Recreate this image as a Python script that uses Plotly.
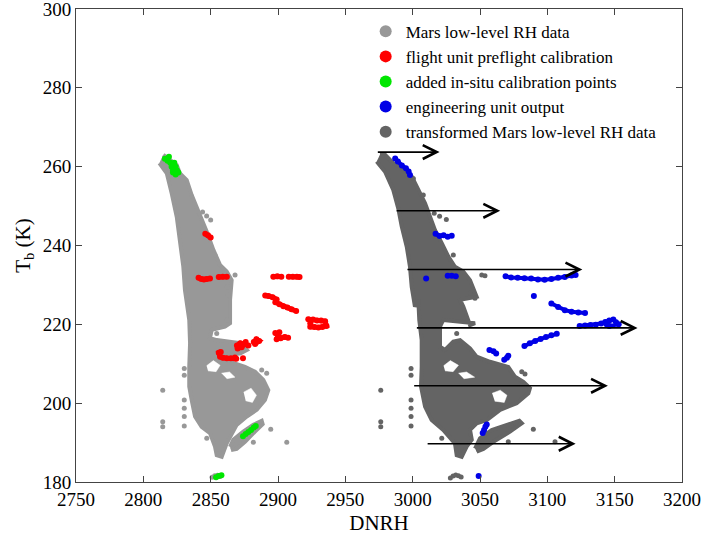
import plotly.graph_objects as go

# ---------------- data ----------------
# Mars low-level RH data (light grey cloud): outline and scattered points
mars_main_x = [2814.8, 2824.8, 2827.2, 2832.2, 2835.9, 2839.6, 2843.3, 2847.1, 2852.0, 2856.9, 2861.9, 2865.6,
               2864.4, 2864.4, 2860.6, 2850.8, 2849.5, 2854.5, 2871.8, 2876.8, 2871.8, 2856.9, 2864.4, 2875.5,
               2882.9, 2889.1, 2892.8, 2890.3, 2884.2, 2876.8, 2869.3, 2864.4, 2861.9, 2858.2, 2854.5, 2853.2,
               2849.5, 2843.3, 2838.4, 2835.9, 2834.1, 2834.1, 2834.7, 2834.1, 2830.9, 2829.7, 2827.2, 2824.8,
               2821.1, 2817.4, 2811.9]
mars_main_y = [263.0, 260.4, 258.3, 256.6, 252.8, 249.8, 246.5, 243.5, 238.9, 235.1, 233.4, 231.2,
               226.2, 220.3, 219.4, 218.6, 216.5, 216.0, 215.2, 213.5, 212.6, 212.2, 210.5, 209.2,
               208.0, 205.9, 203.3, 200.8, 198.3, 196.6, 194.5, 191.5, 189.8, 186.4, 186.8, 189.0,
               192.4, 194.0, 196.6, 200.8, 204.2, 209.2, 215.2, 221.1, 228.7, 234.6, 241.4, 247.3,
               253.2, 258.3, 260.9]
mars_lobe_x = [2864.4, 2866.8, 2874.2, 2881.7, 2887.9, 2888.6, 2882.9, 2875.5, 2869.3, 2865.1]
mars_lobe_y = [188.9, 190.7, 192.8, 194.5, 195.5, 194.7, 192.8, 190.2, 188.4, 188.1]
mars_pts_x = [2814.4, 2814.4, 2814.4, 2830.4, 2830.4, 2830.4, 2830.4, 2830.4, 2830.4, 2847.1, 2894.6,
              2881.7, 2906.5, 2854.5, 2870.5, 2887.9, 2891.6, 2844.0, 2847.0, 2850.0, 2853.2, 2868.1,
              2861.9, 2863.1, 2861.9, 2851.0, 2853.0, 2855.0, 2857.0]
mars_pts_y = [203.3, 195.3, 194.0, 208.8, 207.1, 200.8, 198.7, 196.6, 194.2, 191.1, 193.4,
              190.1, 190.1, 217.7, 209.2, 208.4, 207.6, 248.5, 247.5, 246.5, 237.6, 232.5,
              229.5, 227.4, 221.1, 181.2, 181.6, 181.7, 181.4]
# gaps inside the light grey cloud
mars_hole_x = [2847, 2852, 2857, 2854, 2848, None, 2874.5, 2880, 2884, 2881, 2876, None, 2858, 2864, 2868, 2862]
mars_hole_y = [209.5, 210.8, 209.6, 208.0, 208.2, None, 202.8, 203.8, 202.0, 200.2, 200.6, None, 207.6, 207.9, 206.6, 206.2]

# flight unit preflight calibration (red)
flight_x = [2846, 2848, 2850, None,
            2841, 2843, 2845, 2847, 2849.5, None,
            2856, 2859, 2862, None,
            2896.5, 2899.5, 2902.5, None,
            2908, 2911, 2914, 2916, None,
            2890.5, 2893, 2896, 2899, None,
            2898, 2901, 2904, 2907, 2910, 2913.5, None,
            2922.5, 2926, 2929, 2932, 2935, 2936, 2933, 2930, 2927, 2924, 2924, None,
            2898, 2900, 2902, 2905, 2907.5, None, 2899, 2901, None,
            2869.5, 2872, 2875, 2878, None, 2870, 2873, 2876, None,
            2882, 2884, 2886, 2883, None,
            2857.5, 2856, 2857, 2859, 2862, 2865, 2868, 2869, None,
            2874]
flight_y = [243.0, 242.6, 242.0, None,
            231.8, 231.5, 231.4, 231.5, 231.6, None,
            232.0, 232.1, 232.1, None,
            232.1, 232.2, 232.1, None,
            232.1, 232.1, 232.1, 232.0, None,
            227.3, 227.2, 226.9, 226.3, None,
            225.6, 225.1, 224.6, 224.3, 223.8, 223.4, None,
            221.3, 221.2, 221.0, 221.0, 220.8, 219.6, 219.3, 219.2, 219.3, 219.4, 220.3, None,
            217.8, 217.0, 216.5, 216.8, 216.6, None, 216.2, 218.0, None,
            214.6, 215.2, 215.0, 214.6, None, 213.9, 214.2, 215.5, None,
            215.5, 216.2, 215.8, 215.0, None,
            213.0, 212.8, 211.8, 211.5, 211.4, 211.4, 211.6, 211.3, None,
            211.4]

# added in-situ calibration points (green)
insitu_x = [2816, 2818, 2819, 2820, 2821, 2822, 2823, 2824, 2825, 2822, 2826, 2824,
            2874, 2876, 2878, 2880, 2882, 2883.5,
            2854, 2856, 2858]
insitu_y = [262.0, 261.5, 262.5, 261.0, 260.0, 259.0, 261.0, 260.0, 259.0, 258.5, 258.5, 258.0,
            191.6, 192.2, 192.7, 193.2, 193.8, 194.2,
            181.2, 181.5, 181.7]

# engineering unit output (blue)
eng_x = [2987, 2989, 2992, 2995, 2997, 2998, None,
         3017, 3020, 3023, 3026, 3029, None,
         3010, None,
         3026, 3029, 3032, None,
         3069, 3073, 3078, 3083, 3088, 3093, 3098, 3103, 3108, 3113, 3118, 3121, None,
         3090, None,
         3103, 3108, 3113, 3118, 3123, 3128, None,
         3124, 3128, 3132, 3136, 3140, 3143, 3146, 3149, 3151, 3153, 3146, 3144, None,
         3083, 3087, 3091, 3095, 3099, 3103, 3107, None,
         3057, 3060, 3062, None, 3068, 3070, 3071, None,
         3052, 3053, 3054, 3055, None,
         3049]
eng_y = [262.1, 261.3, 260.3, 259.6, 258.8, 257.9, None,
         243.0, 242.4, 242.6, 242.2, 242.5, None,
         231.6, None,
         232.3, 232.3, 232.2, None,
         232.2, 231.9, 231.8, 231.7, 231.6, 231.4, 231.3, 231.5, 231.8, 232.0, 232.4, 232.5, None,
         227.2, None,
         225.3, 224.4, 223.6, 223.2, 223.0, 222.9, None,
         219.6, 219.7, 219.8, 219.9, 220.2, 220.6, 221.0, 221.2, 220.5, 220.0, 219.6, 220.0, None,
         214.5, 215.2, 215.8, 216.3, 216.8, 217.2, 217.6, None,
         213.5, 213.2, 212.6, None, 211.0, 211.5, 212.0, None,
         192.4, 193.2, 194.0, 194.6, None,
         181.5]

# transformed Mars low-level RH data (dark grey cloud)
trans_main_x = [2975.7, 2979.5, 2985.6, 2994.3, 2999.3, 3004.2, 3009.2, 3012.9, 3016.6, 3021.6, 3026.5, 3031.4,
                3037.6, 3042.6, 3047.5, 3035.2, 3037.6, 3042.6, 3046.3, 3022.7, 3020.3, 3020.3, 3024.0, 3030.2,
                3035.2, 3042.6, 3047.5, 3057.4, 3064.9, 3071.0, 3076.0, 3082.2, 3087.1, 3085.9, 3077.2, 3064.9,
                3054.9, 3047.5, 3042.6, 3043.9, 3040.1, 3036.4, 3032.7, 3031.4, 3022.7, 3014.1, 3009.2, 3006.2,
                3006.7, 3006.7, 3004.9, 3004.2, 3001.7, 2999.3, 2998.0, 2995.6, 2991.9, 2989.3, 2985.6, 2979.5,
                2973.3]
trans_main_y = [263.0, 263.0, 260.9, 259.2, 257.5, 254.1, 250.7, 247.3, 243.9, 240.6, 237.2, 234.6,
                233.4, 231.2, 227.0, 226.2, 224.5, 219.8, 220.3, 221.1, 219.4, 214.3, 213.5, 215.6,
                216.0, 213.9, 211.8, 210.5, 209.7, 209.2, 206.7, 205.4, 203.8, 202.5, 200.0, 198.3,
                195.7, 194.9, 193.2, 190.7, 189.0, 186.4, 186.8, 189.8, 193.2, 195.7, 199.1, 204.2,
                209.2, 216.0, 221.1, 226.2, 224.5, 229.5, 234.6, 239.7, 244.8, 249.4, 254.1, 258.7,
                261.3]
trans_lobe_x = [3046.3, 3050.0, 3058.7, 3069.8, 3079.2, 3081.0, 3072.3, 3059.9, 3052.5, 3047.5]
trans_lobe_y = [188.5, 191.1, 193.2, 194.5, 195.5, 194.9, 192.8, 190.2, 188.4, 187.7]
trans_pts_x = [2976.3, 2976.3, 2976.3, 2998.8, 2998.8, 2998.8, 2998.8, 2998.8, 2998.8, 3021.6, 3089.6,
               3071.0, 3105.7, 3032.7, 3081.0, 3083.4, 3000.5, 3007.9, 3030.2, 3051.3, 3053.7, 3042.6,
               3046.3, 3016.0, 3020.0, 3025.0, 3028.0, 3030.0, 3032.0, 3034.0, 3036.0]
trans_pts_y = [203.3, 195.3, 194.0, 208.8, 207.1, 200.8, 198.7, 196.6, 194.2, 191.1, 193.4,
               190.2, 190.2, 217.7, 208.0, 207.4, 257.0, 252.8, 237.6, 232.5, 232.3, 227.9,
               226.6, 248.2, 247.4, 246.6, 181.0, 181.5, 181.8, 181.6, 181.3]
# gaps inside the dark grey cloud
trans_hole_x = [3023, 3028, 3034, 3030, 3024, None, 3059, 3065, 3070, 3068, 3061, None, 3034, 3040, 3046, 3038]
trans_hole_y = [209.5, 210.8, 209.6, 208.0, 208.2, None, 202.5, 203.3, 202.0, 200.2, 200.5, None, 207.6, 207.9, 206.6, 206.2]

# arrows (tail x, head x, level)
arrow_x0 = [2973, 2987, 2995, 3002, 3000, 3010]
arrow_x1 = [3020, 3065, 3126, 3167, 3145, 3121]
arrow_y = [263.7, 248.8, 233.9, 219.1, 204.4, 189.7]

x_ticks = [2750, 2800, 2850, 2900, 2950, 3000, 3050, 3100, 3150, 3200]
y_ticks = [180, 200, 220, 240, 260, 280, 300]

names = ["Mars low-level RH data", "flight unit preflight calibration", "added in-situ calibration points",
         "engineering unit output", "transformed Mars low-level RH data"]

# ---------------- style ----------------
LIGHT = "rgb(152,152,152)"
DARK = "rgb(100,100,100)"
RED = "rgb(255,0,0)"
GREEN = "rgb(0,230,0)"
BLUE = "rgb(0,0,230)"
FONT = "Liberation Serif"

fig = go.Figure()

def cloud(x, y, color, width=4):
    fig.add_trace(go.Scatter(x=x, y=y, mode="lines", fill="toself", fillcolor=color,
                             line=dict(color=color, width=width), showlegend=False, hoverinfo="skip"))

def pts(x, y, color, size=5, lines=False, width=5):
    fig.add_trace(go.Scatter(x=x, y=y, mode="lines+markers" if lines else "markers",
                             marker=dict(color=color, size=size), line=dict(color=color, width=width),
                             showlegend=False, hoverinfo="skip", connectgaps=False))

cloud(mars_main_x, mars_main_y, LIGHT)
cloud(mars_lobe_x, mars_lobe_y, LIGHT)
cloud(mars_hole_x, mars_hole_y, "white", 0.5)
pts(mars_pts_x, mars_pts_y, LIGHT, 5)
cloud(trans_main_x, trans_main_y, DARK)
cloud(trans_lobe_x, trans_lobe_y, DARK)
cloud(trans_hole_x, trans_hole_y, "white", 0.5)
pts(trans_pts_x, trans_pts_y, DARK, 5)
pts(flight_x, flight_y, RED, 6, lines=True, width=5)
pts(insitu_x, insitu_y, GREEN, 6)
pts(eng_x, eng_y, BLUE, 6, lines=True, width=4)

# legend entries
for nm, col in zip(names, [LIGHT, RED, GREEN, BLUE, DARK]):
    fig.add_trace(go.Scatter(x=[None], y=[None], mode="markers", name=nm,
                             marker=dict(color=col, size=8)))

for x0, x1, y in zip(arrow_x0, arrow_x1, arrow_y):
    fig.add_annotation(x=x1, y=y, ax=x0, ay=y, xref="x", yref="y", axref="x", ayref="y",
                       text="", showarrow=True, arrowhead=5, arrowsize=1.7, arrowwidth=1.6,
                       arrowcolor="black")

axis_common = dict(ticks="inside", ticklen=6, tickcolor="#444", showline=True, linecolor="#444",
                   linewidth=1, mirror="ticks", showgrid=False, zeroline=False, automargin=False,
                   ticklabeloverflow="allow",
                   tickfont=dict(family=FONT, size=19, color="black"))

fig.update_layout(
    width=709, height=542,
    margin=dict(l=76, r=27, t=9, b=60),
    plot_bgcolor="white", paper_bgcolor="white",
    font=dict(family=FONT, color="black"),
    xaxis=dict(range=[2750, 3200], tickvals=x_ticks, ticktext=[str(v) for v in x_ticks],
               title=dict(text="DNRH", font=dict(family=FONT, size=21), standoff=6), **axis_common),
    yaxis=dict(range=[180, 300], tickvals=y_ticks, ticktext=[str(v) for v in y_ticks],
               title=dict(text="T<sub>b</sub> (K)", font=dict(family=FONT, size=21), standoff=6), **axis_common),
    legend=dict(x=0.478, y=0.99, xanchor="left", yanchor="top", bgcolor="rgba(0,0,0,0)",
                font=dict(family=FONT, size=17, color="black"), itemsizing="constant",
                tracegroupgap=0),
    showlegend=True,
)

fig.write_html("out.html", config={"displayModeBar": False},
               post_script="document.body.style.margin='0';")
